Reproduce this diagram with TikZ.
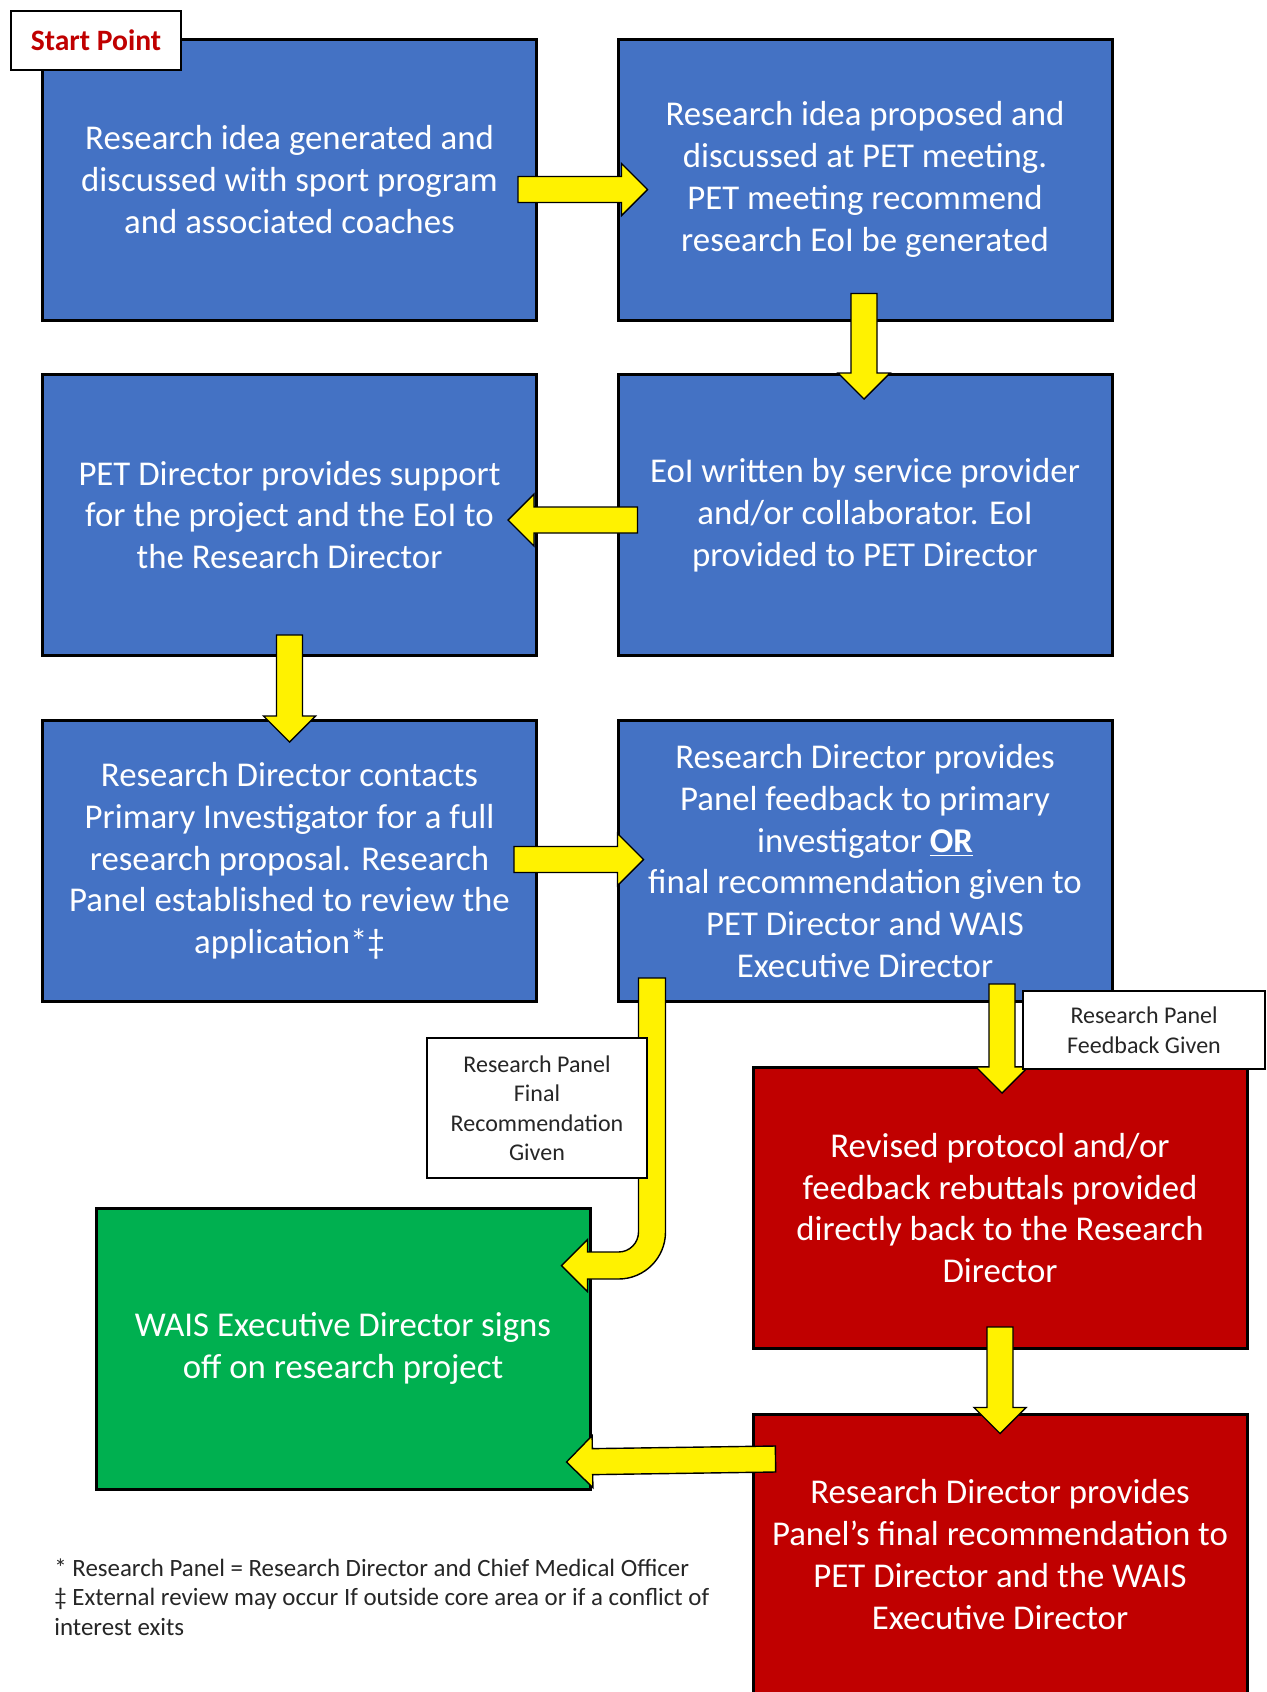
\documentclass[tikz,border=0pt]{standalone}
\usepackage{fontspec}
\setmainfont{Carlito}
\usetikzlibrary{calc}

\definecolor{boxblue}{HTML}{4472C4}
\definecolor{boxred}{HTML}{C00000}
\definecolor{boxgreen}{HTML}{00B050}
\definecolor{notetext}{HTML}{262626}

\begin{document}
\begin{tikzpicture}[x=0.5pt,y=-0.5pt,
    box/.style={draw=black,line width=1.5pt,minimum width=247pt,minimum height=140.5pt,inner sep=0pt,align=center,text=white,font=\fontsize{17.4}{20.9}\selectfont},
    note/.style={draw=black,fill=white,line width=0.8pt,inner sep=0pt,align=center,text=notetext,font=\fontsize{12}{14.75}\selectfont},
    fat/.style={draw=black,fill=yellow,line width=0.7pt,line join=miter,
      to path={let \p1=($(\tikztotarget)-(\tikztostart)$),\n1={atan2(\y1,\x1)},\n2={veclen(\x1,\y1)} in
        {[shift={(\tikztostart)},rotate=\n1]
        (0pt,-6.5pt) -- (\n2-13pt,-6.5pt) -- (\n2-13pt,-13pt) -- (\n2,0pt)
        -- (\n2-13pt,13pt) -- (\n2-13pt,6.5pt) -- (0pt,6.5pt) -- cycle}}},
    fatbend/.style={draw=black,fill=yellow,line width=0.7pt,line join=miter,
      to path={let \p1=(\tikztostart),\p2=(\tikztotarget) in
        (\x1-6.75pt,\y1) -- (\x1-6.75pt,\y2+16.75pt) arc[start angle=0,end angle=-90,radius=10pt]
        -- (\x2+13pt,\y2+6.75pt) -- (\x2+13pt,\y2+13pt) -- (\x2,\y2) -- (\x2+13pt,\y2-13pt) -- (\x2+13pt,\y2-6.75pt)
        -- (\x1-16.75pt,\y2-6.75pt) arc[start angle=-90,end angle=0,radius=23.5pt] -- (\x1+6.75pt,\y1) -- cycle}}
  ]
  \useasboundingbox (0,0) rectangle (1266,1692);

    \node[box,fill=boxblue] (a1) at (289.5,179.5) {Research idea generated and\\discussed with sport program\\and associated coaches};
    \node[box,fill=boxblue] (b1) at (865,179.5) {Research idea proposed and\\discussed at PET meeting.\\PET meeting recommend\\research EoI be generated};

    \node[box,fill=boxblue] (a2) at (289.5,515) {PET Director provides support\\for the project and the EoI to\\the Research Director};
    \node[box,fill=boxblue] (b2) at (865,515) {EoI written by service provider\\and/or collaborator. EoI\\provided to PET Director};

    \node[box,fill=boxblue] (a3) at (289.5,861) {Research Director contacts\\Primary Investigator for a full\\research proposal. Research\\Panel established to review the\\application*‡};
    \node[box,fill=boxblue] (b3) at (865,861) {Research Director provides\\Panel feedback to primary\\investigator \textbf{\underline{OR}}\\final recommendation given to\\PET Director and WAIS\\Executive Director};

    \node[box,fill=boxgreen] (a4) at (343,1348.5) {WAIS Executive Director signs\\off on research project};
    \node[box,fill=boxred] (b4) at (1000,1208) {Revised protocol and/or\\feedback rebuttals provided\\directly back to the Research\\Director};
    \node[box,fill=boxred] (b5) at (1000,1554.5) {Research Director provides\\Panel’s final recommendation to\\PET Director and the WAIS\\Executive Director};

    %%%%%%%%%% arrows %%%%%%%%%%
    \draw[fat] ($(a1.east)+(-20,10)$) to ($(b1.west)+(31,10)$);
    \draw[fat] ($(b1.south)+(-1,-28)$) to ($(b2.north)+(-1,26)$);
    \draw[fat] ($(b2.west)+(21,5)$) to ($(a2.east)+(-30,5)$);
    \draw[fat] ($(a2.south)+(0,-22)$) to ($(a3.north)+(0,23)$);
    \draw[fat] ($(a3.east)+(-24,-1.5)$) to ($(b3.west)+(27,-1.5)$);
    \draw[fat] ($(b3.south)+(137,-19)$) to ($(b4.north)+(2,27)$);
    \draw[fat] ($(b4.south)+(0,-23)$) to ($(b5.north)+(0,21)$);
    \draw[fat] ($(b5.north west)+(24,46.5)$) to ($(a4.south east)+(-25,-28.5)$);
    \draw[fatbend] ($(b3.south west)+(35.5,-25)$) to ($(a4.north east)+(-30,59)$);

    %%%%%%%%%% labels %%%%%%%%%%
    \node[note,line width=1pt,minimum width=85pt,minimum height=29.5pt,text=boxred,font=\fontsize{14.8}{17}\selectfont\bfseries] (s) at (96,40.5) {Start Point};
    \node[note,minimum width=110pt,minimum height=70pt] (l1) at (537,1108) {Research Panel\\Final\\Recommendation\\Given};
    \node[note,minimum width=121pt,minimum height=39pt] (l2) at (1144,1030) {Research Panel\\Feedback Given};

    \node[anchor=west,align=left,inner sep=0pt,text=notetext,font=\fontsize{12.45}{14.75}\selectfont] (fn) at (54,1597) {* Research Panel = Research Director and Chief Medical Officer\\‡ External review may occur If outside core area or if a conflict of\\interest exits};
  \end{tikzpicture}
\end{document}
